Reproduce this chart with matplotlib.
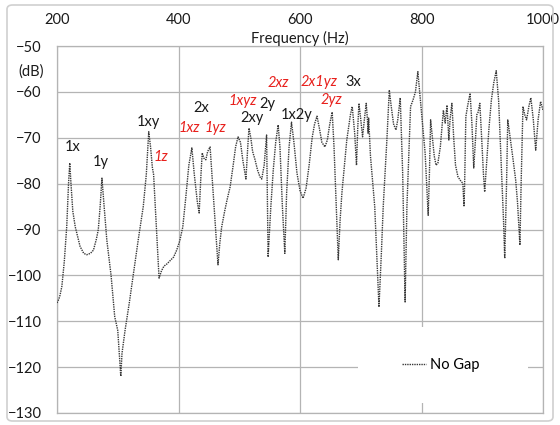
import matplotlib
matplotlib.use("Agg")
import matplotlib.pyplot as plt
from matplotlib.patches import Rectangle, FancyBboxPatch

plt.rcParams["font.family"] = ["Lato", "DejaVu Sans"]

# frequency response
FREQ = [200, 203, 205, 208, 212, 216, 219, 221, 223, 226, 230, 238, 244, 249, 255, 260, 265, 268, 271,
        274, 277, 282, 289, 295, 300, 303, 305, 307, 312, 319, 326, 334, 342, 347, 351, 354, 357, 359,
        363, 368, 372, 376, 381, 387, 392, 397, 402, 407, 412, 417, 422, 426, 431, 434, 437, 439, 442,
        445, 448, 452, 455, 460, 465, 468, 471, 476, 480, 485, 490, 494, 498, 502, 506, 511, 514, 516,
        519, 522, 526, 530, 534, 537, 541, 545, 547.5, 552, 556, 560, 564, 567, 571, 575, 578, 582, 586,
        590, 595, 600, 605, 610, 615, 620, 624, 628, 632, 636, 641, 645, 649, 653, 656, 660, 663, 666,
        669, 677, 683, 686, 690, 693, 695, 697, 700, 703, 706, 709, 711, 712, 713, 716, 723, 730, 734,
        737, 743, 747, 750, 754, 758, 761, 765, 769, 773, 776, 782, 786, 790, 794, 797, 801, 806, 811,
        813, 815, 818, 821, 824, 827, 831, 836, 839, 842, 845, 847, 850, 853, 856, 860, 865, 868, 870,
        871, 873, 876, 880, 883, 886, 889, 891, 893, 896, 899, 902, 904, 907, 911, 915, 919, 923, 927,
        931, 935, 937, 940, 942, 946, 950, 955, 958, 962, 964, 967, 970, 973, 977, 980, 984, 988, 992,
        996, 1000]
LEVEL = [-106, -105.2, -104.3, -102.4, -97, -89.4, -80, -75.5, -80, -86, -89.4, -93.7, -95.2, -95.5,
         -95.2, -94.5, -92, -90, -85, -78.8, -84, -92.3, -100, -109, -112, -118, -122, -117, -112, -106,
         -99.5, -92, -85, -78, -68.7, -72, -76.5, -78, -88, -100.6, -99, -98, -97.5, -96.7, -96, -94.5,
         -92.5, -89.5, -83, -76, -72.2, -78, -84, -86.4, -78, -73.3, -74.5, -74.8, -73, -72, -78, -88,
         -97.7, -93, -89.5, -86, -83.5, -80.7, -76, -72, -69.8, -71, -75, -79, -72, -67.9, -70, -73,
         -74.8, -77, -78.5, -79, -76, -69.4, -96, -85, -77, -71, -67.2, -72, -85, -95.2, -82, -72,
         -66.6, -71, -77.7, -81.5, -83.2, -81, -76, -70, -67, -65.3, -68, -71, -72, -70.5, -67, -64.4,
         -72, -86, -96.6, -88, -82, -70.5, -65, -63.2, -69, -76, -68, -62.5, -66, -69.8, -66, -62.5, -66,
         -69, -65.7, -74, -85, -106.9, -95, -85, -70.5, -59.6, -63, -67, -68.3, -66, -61.3, -77.7,
         -105.8, -85, -63.2, -61.8, -60, -55.6, -60, -66, -73.4, -86.9, -78, -66.1, -70, -74, -76,
         -75.5, -72, -64, -66.8, -62.9, -70.5, -66, -62.5, -70, -76, -78.5, -79.5, -79.9, -85, -80,
         -65.4, -63, -60.3, -67, -76.6, -70, -65, -64.5, -62.5, -70, -78, -81.8, -76, -68, -61.8, -58,
         -55.4, -62, -75, -88, -96.3, -80, -66.1, -70, -74, -79.2, -84, -93.4, -80, -63.2, -65, -66.1,
         -63, -61.3, -66, -72.7, -66, -62.1, -64]

# mode labels: text, frequency, level, colour
MODE_TEXT = ["1x", "1y", "1xy", "1z", "1xz", "1yz", "2x", "1xyz", "2xy", "2y", "2xz", "1x2y",
             "2x1yz", "2yz", "3x"]
MODE_F = [225, 272, 350, 371, 417, 460, 437, 506, 521, 546, 564, 595, 631, 652, 687]
MODE_DB = [-72, -75.3, -66.6, -74.2, -67.9, -67.9, -63.5, -62, -65.7, -62.6, -58.1, -65, -57.8,
           -61.8, -57.8]
MODE_RED = [False, False, False, True, True, True, False, True, False, False, True, False,
            True, True, False]

GRID = "#b4b4b4"
RED = "#e8201c"
INK = "#1a1a1a"

fig = plt.figure(figsize=(5.6, 4.25), dpi=100)
fig.patch.set_facecolor("white")
fig.patches.append(FancyBboxPatch((7 / 560, 4 / 425), 546 / 560, 416 / 425,
                                  boxstyle="round,pad=0,rounding_size=0.01",
                                  transform=fig.transFigure, fc="none", ec="#d0d0d0", lw=1.2))

ax = fig.add_axes([57 / 560, 12 / 425, 486 / 560, 367 / 425])
ax.plot(FREQ, LEVEL, color="#383838", lw=1.0, ls=(0, (1, 0.7)), label="No Gap", zorder=3)

ax.set_xlim(200, 1000)
ax.set_ylim(-130, -50)
ax.set_xticks([200, 400, 600, 800, 1000])
ax.set_yticks(range(-130, -49, 10))
ax.xaxis.tick_top()
ax.tick_params(length=0, labelsize=10.5, colors=INK)
ax.tick_params(axis="x", pad=14)
ax.tick_params(axis="y", pad=11)
ax.grid(True, color=GRID, lw=0.9)
for s in ax.spines.values():
    s.set_color(GRID)
    s.set_linewidth(0.9)

fig.text(300 / 560, 1 - 38 / 425, "Frequency (Hz)", ha="center", va="center", fontsize=10.5, color=INK)
fig.text(31 / 560, 1 - 72 / 425, "(dB)", ha="center", va="center", fontsize=10.5, color=INK)

for t, f, db, red in zip(MODE_TEXT, MODE_F, MODE_DB, MODE_RED):
    ax.text(f, db, t, ha="center", va="center", fontsize=10.5,
            color=RED if red else INK, style="italic" if red else "normal", zorder=4)

# white legend area that hides the gridlines beneath it
ax.add_patch(Rectangle((0.619, 0.027), 0.35, 0.207, transform=ax.transAxes,
                       fc="white", ec="none", zorder=2.5))
leg = ax.legend(loc="center", bbox_to_anchor=(0.79, 0.13), frameon=False, fontsize=10.5,
                handlelength=1.6, handletextpad=0.3)

fig.savefig("out.png", dpi=100, facecolor="white")
